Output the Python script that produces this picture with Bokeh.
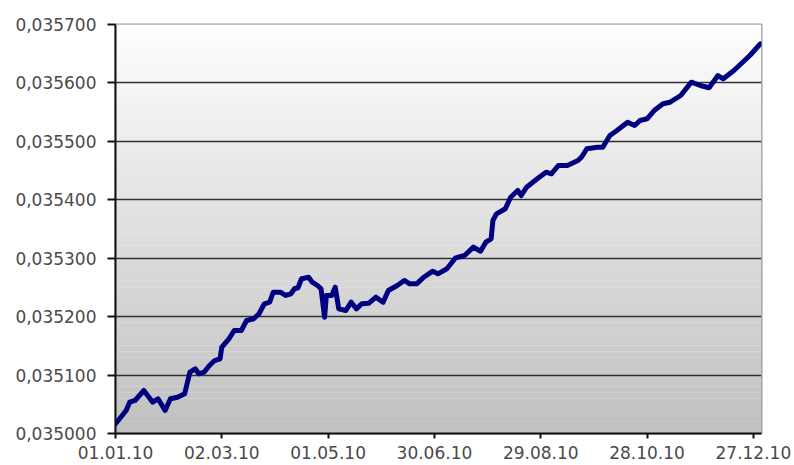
import datetime as dt
from bokeh.plotting import figure
from bokeh.models import (Range1d, FixedTicker, CustomJSTickFormatter, BoxAnnotation,
                          DatetimeTickFormatter, ColumnDataSource)
from bokeh.embed import file_html
from bokeh.resources import INLINE

# ---- data ----
start_date = "01.01.10"
day_offsets = [0, 3, 6, 8, 11, 16, 21, 24, 28, 31, 35, 39, 42, 45, 47, 50, 53, 56, 59, 60,
               64, 67, 71, 74, 78, 81, 84, 87, 89, 93, 96, 99, 101, 103, 105, 109, 111, 114,
               116, 118, 119, 122, 124, 126, 130, 133, 136, 139, 143, 147, 151, 154, 159,
               163, 166, 170, 174, 179, 182, 187, 192, 197, 202, 206, 209, 212, 213, 215,
               220, 223, 227, 229, 232, 238, 243, 246, 250, 255, 261, 263, 266, 272, 275,
               279, 283, 289, 293, 296, 300, 304, 309, 313, 319, 325, 330, 335, 340, 343,
               349, 355, 358, 364]
rates = [0.0350166, 0.0350279, 0.0350394, 0.0350536, 0.0350565, 0.0350736, 0.0350536,
         0.0350594, 0.0350394, 0.0350594, 0.0350621, 0.0350679, 0.0351049, 0.0351107,
         0.0351022, 0.0351049, 0.0351164, 0.0351249, 0.0351278, 0.0351477, 0.0351621,
         0.0351763, 0.0351763, 0.0351934, 0.0351963, 0.0352049, 0.0352220, 0.0352247,
         0.0352418, 0.0352418, 0.0352362, 0.0352391, 0.0352477, 0.0352494, 0.0352648,
         0.0352675, 0.0352590, 0.0352533, 0.0352477, 0.0351990, 0.0352362, 0.0352362,
         0.0352504, 0.0352134, 0.0352105, 0.0352247, 0.0352134, 0.0352220, 0.0352230,
         0.0352333, 0.0352247, 0.0352447, 0.0352533, 0.0352619, 0.0352562, 0.0352562,
         0.0352675, 0.0352778, 0.0352733, 0.0352819, 0.0353007, 0.0353046, 0.0353189,
         0.0353120, 0.0353274, 0.0353332, 0.0353645, 0.0353760, 0.0353846, 0.0354044,
         0.0354159, 0.0354073, 0.0354215, 0.0354359, 0.0354472, 0.0354445, 0.0354587,
         0.0354587, 0.0354672, 0.0354729, 0.0354873, 0.0354900, 0.0354900, 0.0355100,
         0.0355186, 0.0355328, 0.0355271, 0.0355357, 0.0355386, 0.0355528, 0.0355643,
         0.0355670, 0.0355785, 0.0356013, 0.0355956, 0.0355917, 0.0356127, 0.0356071,
         0.0356213, 0.0356384, 0.0356469, 0.0356670]
x_tick_labels = ["01.01.10", "02.03.10", "01.05.10", "30.06.10", "29.08.10", "28.10.10", "27.12.10"]
y_ticks = [0.035000, 0.035100, 0.035200, 0.035300, 0.035400, 0.035500, 0.035600, 0.035700]
x_end_date = "31.12.10"

# ---- build ----
EPOCH = dt.datetime(1970, 1, 1)
def ms(d):
    return (d - EPOCH).total_seconds() * 1000.0

t0 = dt.datetime.strptime(start_date, "%d.%m.%y")
dates = [t0 + dt.timedelta(days=d) for d in day_offsets]
src = ColumnDataSource(dict(date=dates, rate=rates))

x_ticks = [ms(dt.datetime.strptime(s, "%d.%m.%y")) for s in x_tick_labels]
x_end = dt.datetime.strptime(x_end_date, "%d.%m.%y") + dt.timedelta(hours=14)

FONT = "DejaVu Sans"
p = figure(width=794, height=465, x_axis_type="datetime",
           x_range=Range1d(t0, x_end), y_range=Range1d(y_ticks[0], y_ticks[-1]),
           output_backend="svg", toolbar_location=None,
           min_border_left=115, min_border_right=33, min_border_top=24, min_border_bottom=32)
p.background_fill_color = "white"
p.border_fill_color = "white"

# vertical grey gradient background
n_bands = 70
lo, hi = y_ticks[0], y_ticks[-1]
step = (hi - lo) / n_bands
for i in range(n_bands):
    frac = (i + 0.5) / n_bands  # 0 bottom -> 1 top
    g = int(round(192 + (254 - 192) * frac))
    col = "#%02x%02x%02x" % (g, g, g)
    p.add_layout(BoxAnnotation(bottom=lo + i * step, top=lo + (i + 1.05) * step,
                               fill_color=col, fill_alpha=1.0, line_alpha=0,
                               level="image"))

p.line("date", "rate", source=src, line_color="#000080", line_width=5,
       line_join="round", line_cap="round")

# grid
p.xgrid.grid_line_color = None
p.ygrid.grid_line_color = "#303030"
p.ygrid.grid_line_width = 1.6
p.ygrid.ticker = FixedTicker(ticks=y_ticks)

p.outline_line_color = "#9a9a9a"
p.outline_line_width = 2

# axes
p.yaxis.ticker = FixedTicker(ticks=y_ticks)
p.yaxis.formatter = CustomJSTickFormatter(code="return tick.toFixed(6).replace('.', ',');")
p.xaxis.ticker = FixedTicker(ticks=x_ticks)
fmt = "%d.%m.%y"
p.xaxis.formatter = DatetimeTickFormatter(microseconds=fmt, milliseconds=fmt, seconds=fmt,
                                          minsec=fmt, minutes=fmt, hourmin=fmt, hours=fmt,
                                          days=fmt, months=fmt, years=fmt)
for ax in (p.xaxis[0], p.yaxis[0]):
    ax.axis_line_color = "#111111"
    ax.axis_line_width = 2
    ax.major_tick_line_color = "#111111"
    ax.major_tick_line_width = 2
    ax.major_tick_in = 0
    ax.minor_tick_line_color = None
    ax.major_label_text_font = FONT
    ax.major_label_text_font_size = "17px"
    ax.major_label_text_color = "#4a4a4a"
p.yaxis.major_tick_out = 8
p.yaxis.major_label_standoff = 11
p.xaxis.major_tick_out = 5
p.xaxis.major_label_standoff = 7

open("out.html", "w").write(file_html(p, INLINE))
